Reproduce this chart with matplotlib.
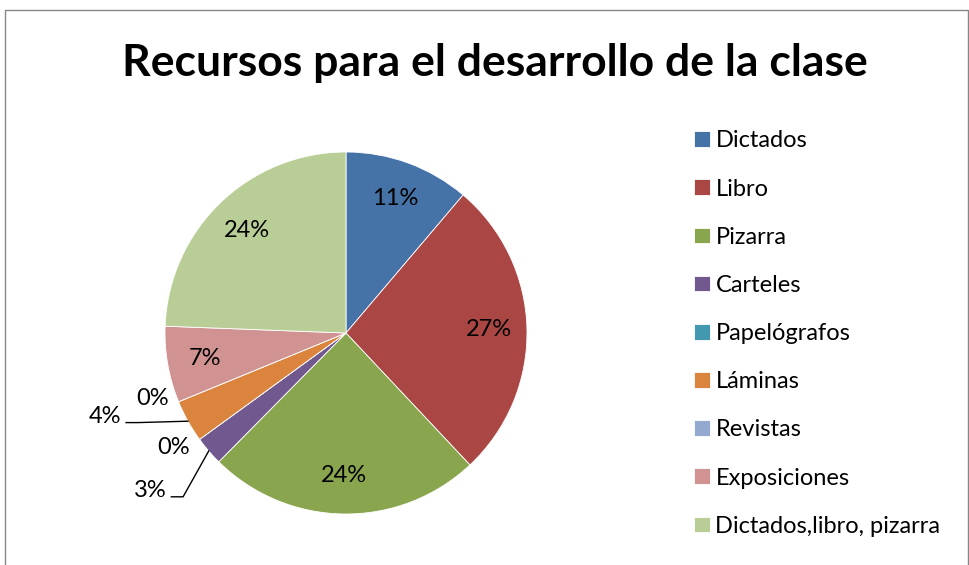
import numpy as np
import matplotlib.pyplot as plt
from matplotlib.patches import Rectangle

plt.rcParams['font.family'] = ['Lato', 'DejaVu Sans']

# data (percent of answers)
categories = ['Dictados', 'Libro', 'Pizarra', 'Carteles', 'Papelógrafos',
              'Láminas', 'Revistas', 'Exposiciones', 'Dictados,libro, pizarra']
shares = [11.2, 26.8, 24.4, 2.6, 0.0, 3.8, 0.0, 6.8, 24.4]
colors = ['#4572A7', '#AA4643', '#89A54E', '#71588F', '#4198AF',
          '#DB843D', '#93A9CF', '#D19392', '#B9CD96']
title = 'Recursos para el desarrollo de la clase'

fig = plt.figure(figsize=(9.7, 5.65), dpi=100)

# outer chart frame
fig.patches.append(Rectangle((5 / 970, -0.05), 963 / 970, 1 - 10 / 565 + 0.05,
                             transform=fig.transFigure, fill=False,
                             edgecolor='#868686', linewidth=1.0))

fig.text(495 / 970, 1 - 63 / 565, title, ha='center', va='center',
         fontsize=32, fontweight='bold')

# pie axes: 181 px per data unit, centre at (346, 333) px
ax = fig.add_axes([(346 - 181 * 1.5) / 970, (565 - 333 - 181 * 1.25) / 565,
                   181 * 3 / 970, 181 * 2.5 / 565])

wedges, _ = ax.pie(shares, colors=colors, startangle=90, counterclock=False,
                   radius=1.0, center=(0, 0), frame=True,
                   wedgeprops=dict(linewidth=0.6, edgecolor='white'))
ax.set_xlim(-1.5, 1.5)
ax.set_ylim(-1.25, 1.25)
ax.axis('off')

total = sum(shares)
bounds = np.cumsum([0] + shares) / total * 360.0  # clockwise from the top

def point(angle_from_top, r):
    a = np.deg2rad(angle_from_top)
    return r * np.sin(a), r * np.cos(a)

# outside labels for the small slices: (text position, leader line)
outside = {
    3: ((-1.08, -0.87), True),
    4: ((-0.95, -0.63), False),
    5: ((-1.33, -0.46), True),
    6: ((-1.07, -0.36), False),
}

for i, s in enumerate(shares):
    label = f'{s:.0f}%'
    mid = (bounds[i] + bounds[i + 1]) / 2
    if i in outside:
        (tx, ty), leader = outside[i]
        ax.text(tx, ty, label, ha='center', va='center', fontsize=17)
        if leader:
            ex, ey = point(mid, 1.0)
            x0 = tx + 0.115
            ax.plot([x0, x0 + 0.065, ex], [ty - 0.035, ty - 0.035, ey],
                    color='black', linewidth=1.0, clip_on=False)
    else:
        x, y = point(mid, 0.79)
        ax.text(x, y, label, ha='center', va='center', fontsize=17)

fig.legend(wedges, categories, loc='upper left',
           bbox_to_anchor=(685 / 970, 1 - 121 / 565), frameon=False,
           fontsize=17, handlelength=0.64, handleheight=0.64,
           handletextpad=0.25, labelspacing=1.15, borderaxespad=0)

fig.savefig('out.png', dpi=100)
